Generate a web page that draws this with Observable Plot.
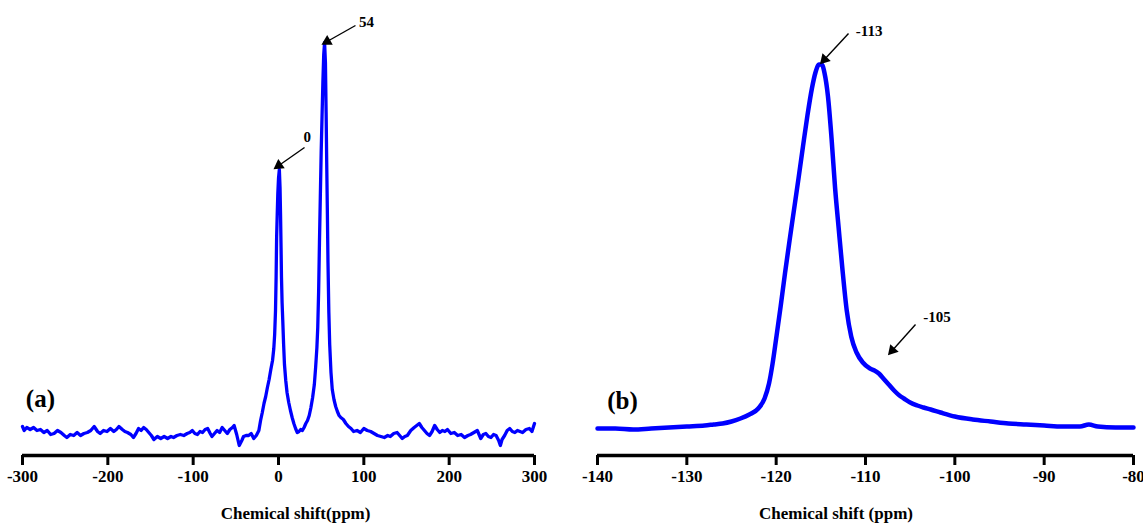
<!DOCTYPE html>
<html><head><meta charset="utf-8">
<script src="https://cdn.jsdelivr.net/npm/d3@7"></script>
<script src="https://cdn.jsdelivr.net/npm/@observablehq/plot@0.6"></script>
<style>
body{margin:0;background:#fff;}
#wrap{display:flex;width:1143px;height:528px;overflow:hidden;background:#fff;}
#wrap svg{flex:none;}
</style></head><body><div id="wrap"></div>
<script>
// ---------- Panel (a) data ----------
const leftShift = [-300,-298,-295,-291,-287,-283,-279,-275,-271,-267,-263,-259,-255,-251,-248,-244,-240,-236,-232,-228,-224,-220,-216,-212,-209,-205,-201,-197,-193,-190,-187,-183,-180,-177,-173,-170,-167,-164,-161,-158,-155,-152,-149,-146,-142,-138,-134,-130,-126,-123,-119,-115,-111,-107,-104,-101,-98,-95,-92,-89,-86,-83,-80,-78,-75,-72,-69,-66,-63,-60,-57,-54,-52,-49,-46,-43,-41,-38,-35,-32,-29,-26,-23,-21,-19,-17,-15,-13,-11,-9,-7,-5.5,-4.5,-3.5,-2.8,-2.2,-1.5,-0.8,0,1,1.8,2.4,3,3.5,4.2,5,6,7,8.5,10,12,14,16,18,20,22,24,26,28,30,32,34,36,38,40,42,43.5,45,46,47,48,49,50,51,52,53,54,55,55.8,56.5,57.2,58,59,60,61.5,63,65,67,69,71,73,76,79,82,85,88,92,96,100,104,108,112,116,120,124,128,131,135,139,142,145,148,151,155,159,162,165,168,171,174,177,180,183,186,189,192,195,198,202,206,210,214,218,222,225,229,233,237,240,243,246,249,252,255,258,260,262,265,268,271,274,277,280,283,286,290,294,297,300];
const leftIntensity = [6,2,5,3,5,2,3,0,2,-2,-1,2,0,-3,-5,-2,-3,0,-3,-1,0,2,6,1,-1,2,1,4,1,3,6,3,1,0,-2,-5,-1,4,2,5,3,0,-3,-7,-4,-6,-4,-6,-4,-5,-3,-2,-3,-1,0,2,-1,-2,1,0,3,4,-1,-4,-1,2,0,5,2,-1,3,5,7,-2,-13,-8,-4,-3,-3,-1,-6,-3,2,12,20,29,36,45,53,63,72,84,98,122,155,195,218,239,254,263,245,218,185,155,130,112,88,68,52,40,30,22,15,9,4,0,1,3,2,5,9,12,17,25,35,48,65,85,105,140,190,235,280,315,350,378,390,370,320,270,225,170,120,88,60,43,33,26,21,17,15,13,9,6,4,1,2,0,4,2,1,-1,-3,-4,-5,-3,-4,-1,0,-3,-6,-4,-3,2,5,7,9,5,2,-1,-3,1,7,3,0,2,1,3,-1,0,-3,-2,-5,-3,-2,0,2,-6,-2,-1,-4,-5,-2,-3,-8,-13,-7,-3,2,4,1,0,2,1,0,3,4,1,9];
const leftTicks = [-300,-200,-100,0,100,200,300];
const leftXDomain = [-300, 300];
const leftYDomain = [-23, 432];
const leftPeakLabels = ["0", "54"];
const leftLabelX = [33.6, 103];
const leftLabelY = [295, 410];
const leftArrowX1 = [30.5, 90.2];
const leftArrowY1 = [285, 407];
const leftArrowX2 = [0.4, 57];
const leftArrowY2 = [267, 391];
const leftPanelTag = "(a)";
const leftTagPos = [-279, 34];
const leftTitle = "Chemical shift(ppm)";
const leftTitleX = 20;

// ---------- Panel (b) data ----------
const rightShift = [-140,-138,-136,-134,-132,-130,-128,-127,-126,-125,-124,-123,-122,-121.3,-120.8,-120.4,-120,-119.5,-119,-118.5,-118,-117.5,-117,-116.5,-116,-115.6,-115.2,-114.9,-114.6,-114.2,-113.8,-113.4,-113,-112.6,-112.1,-111.6,-111,-110.3,-109.5,-109,-108.5,-108,-107.4,-106.8,-106.2,-105.7,-105,-104.2,-103.5,-102.7,-101.6,-100,-98,-96,-94,-92,-90,-88,-86,-85,-84,-82,-80];
const rightIntensity = [0,0,-1,0,1,2,3,4,5,7,10,14,20,30,45,65,90,122,156,188,219,250,282,313,340,356,364,364,356,332,290,240,200,161,118,92,76,66,60,58,55,50,44,38,33,30,26,23,21,19,16,12,9,7,5,4,3,2,2,4,2,1,1];
const rightTicks = [-140,-130,-120,-110,-100,-90,-80];
const rightXDomain = [-140, -80];
const rightYDomain = [-27, 428];
const rightPeakLabels = ["-113", "-105"];
const rightLabelX = [-109.6, -102];
const rightLabelY = [397, 111];
const rightArrowX1 = [-111.9, -104.4];
const rightArrowY1 = [395, 104];
const rightArrowX2 = [-114.6, -107];
const rightArrowY2 = [369, 78];
const rightPanelTag = "(b)";
const rightTagPos = [-137.2, 28];
const rightTitle = "Chemical shift (ppm)";
const rightTitleX = -113.3;

if (leftShift.length !== leftIntensity.length) throw new Error("left lengths " + leftShift.length + " vs " + leftIntensity.length);
if (rightShift.length !== rightIntensity.length) throw new Error("right lengths " + rightShift.length + " vs " + rightIntensity.length);

const serif = "'Liberation Serif','Times New Roman',Times,serif";
const plotHeight = 528, marginBottom = 73;

function panel(o) {
  const line = o.shift.map((x, i) => ({x, y: o.intensity[i]}));
  // pixel-per-unit ratios, only used to orient the filled arrowheads along each arrow
  const kx = (o.width - o.ml - o.mr) / (o.xDomain[1] - o.xDomain[0]);
  const ky = (plotHeight - marginBottom) / (o.yDomain[1] - o.yDomain[0]);
  const labels = o.labels.map((t, i) => {
    const dx = (o.ax2[i] - o.ax1[i]) * kx, dy = -(o.ay2[i] - o.ay1[i]) * ky;
    return {t, x: o.lx[i], y: o.ly[i], x1: o.ax1[i], y1: o.ay1[i], x2: o.ax2[i], y2: o.ay2[i],
      rot: Math.atan2(dx, -dy) * 180 / Math.PI};
  });
  return Plot.plot({
    width: o.width, height: plotHeight,
    marginLeft: o.ml, marginRight: o.mr, marginTop: 0, marginBottom,
    x: {domain: o.xDomain},
    y: {domain: o.yDomain, axis: null},
    style: {fontFamily: serif, fontWeight: "bold", fontSize: "17px", background: "white", color: "black", overflow: "visible"},
    marks: [
      Plot.ruleY([o.yDomain[0]], {stroke: "black", strokeWidth: 3.5}),
      Plot.axisX({ticks: o.ticks, tickSize: 10, strokeWidth: 3, tickPadding: 4, fontSize: 17, fontWeight: "bold", tickFormat: d => String(d), label: null}),
      Plot.line(line, {x: "x", y: "y", stroke: "#0000ff", strokeWidth: o.sw, curve: o.curve}),
      Plot.link(labels, {x1: "x1", y1: "y1", x2: "x2", y2: "y2", stroke: "black", strokeWidth: 1.4}),
      Plot.dot(labels, {x: "x2", y: "y2", symbol: "triangle", r: 4.2, rotate: "rot", fill: "black", stroke: "none"}),
      Plot.text(labels, {x: "x", y: "y", text: "t", fontSize: 15, fontWeight: "bold", fill: "black"}),
      Plot.text([o.tag], {x: [o.tagPos[0]], y: [o.tagPos[1]], fontSize: 25, fontWeight: "bold", fill: "black"}),
      Plot.text([o.title], {x: [o.titleX], frameAnchor: "bottom", dy: 63, fontSize: 17, fontWeight: "bold", fill: "black"})
    ]
  });
}

const wrap = document.getElementById("wrap");
wrap.append(panel({
  width: 565, ml: 22, mr: 31, shift: leftShift, intensity: leftIntensity, xDomain: leftXDomain, yDomain: leftYDomain,
  ticks: leftTicks, sw: 3.3, curve: "linear", labels: leftPeakLabels, lx: leftLabelX, ly: leftLabelY,
  ax1: leftArrowX1, ay1: leftArrowY1, ax2: leftArrowX2, ay2: leftArrowY2,
  tag: leftPanelTag, tagPos: leftTagPos, title: leftTitle, titleX: leftTitleX
}));
wrap.append(panel({
  width: 578, ml: 32, mr: 10, shift: rightShift, intensity: rightIntensity, xDomain: rightXDomain, yDomain: rightYDomain,
  ticks: rightTicks, sw: 4.5, curve: "monotone-x", labels: rightPeakLabels, lx: rightLabelX, ly: rightLabelY,
  ax1: rightArrowX1, ay1: rightArrowY1, ax2: rightArrowX2, ay2: rightArrowY2,
  tag: rightPanelTag, tagPos: rightTagPos, title: rightTitle, titleX: rightTitleX
}));
</script></body></html>
